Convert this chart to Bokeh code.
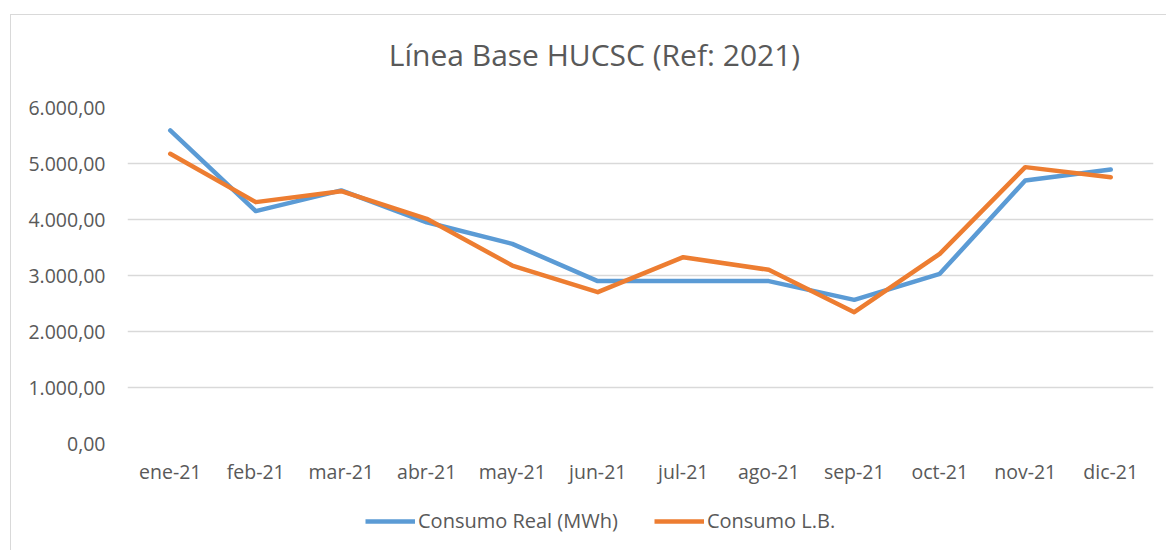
from bokeh.plotting import figure
from bokeh.layouts import column
from bokeh.models import (FactorRange, Range1d, FixedTicker, CustomJSTickFormatter,
                          Legend, LegendItem, Label)
from bokeh.embed import file_html
from bokeh.resources import INLINE

months = ["ene-21", "feb-21", "mar-21", "abr-21", "may-21", "jun-21",
          "jul-21", "ago-21", "sep-21", "oct-21", "nov-21", "dic-21"]
consumo_real = [5590, 4150, 4520, 3950, 3565, 2900, 2900, 2900, 2565, 3030, 4696, 4893]
consumo_lb = [5173, 4310, 4506, 4012, 3178, 2702, 3327, 3101, 2345, 3387, 4935, 4756]
y_ticks = [0, 1000, 2000, 3000, 4000, 5000, 6000]
series_names = ["Consumo Real (MWh)", "Consumo L.B."]
chart_title = "Línea Base HUCSC (Ref: 2021)"

FONT = "Open Sans"
TXT = "#595959"
BLUE = "#5B9BD5"
ORANGE = "#ED7D31"
W = 1155


def strip(h):
    f = figure(width=W, height=h, output_backend="svg", toolbar_location=None,
               x_axis_type=None, y_axis_type=None,
               x_range=Range1d(0, 1026), y_range=Range1d(0, h),
               min_border=0, min_border_left=0, min_border_right=0,
               min_border_top=0, min_border_bottom=0)
    f.outline_line_color = None
    f.xgrid.visible = False
    f.ygrid.visible = False
    f.background_fill_color = "white"
    f.border_fill_color = "white"
    return f


# title strip
t = strip(72)
t.add_layout(Label(x=467, y=33, text=chart_title, text_align="center",
                   text_baseline="middle", text_font=FONT, text_font_size="30px",
                   text_color=TXT))

# main chart
p = figure(x_range=FactorRange(*months), y_range=Range1d(0, 6000),
           width=W, height=408, output_backend="svg", toolbar_location=None,
           min_border_left=116, min_border_right=13, min_border_top=20,
           min_border_bottom=52)
p.outline_line_color = None
p.background_fill_color = "white"
p.border_fill_color = "white"

r1 = p.line(months, consumo_real, line_color=BLUE, line_width=4.5,
            line_join="round", line_cap="round")
r2 = p.line(months, consumo_lb, line_color=ORANGE, line_width=4.5,
            line_join="round", line_cap="round")

p.xgrid.grid_line_color = None
p.ygrid.grid_line_color = "#d9d9d9"
p.ygrid.grid_line_width = 1.3
p.yaxis.ticker = FixedTicker(ticks=y_ticks)
p.yaxis.formatter = CustomJSTickFormatter(code="""
const s = tick.toFixed(2);
let parts = s.split('.');
const i = parts[0].replace(/\\B(?=(\\d{3})+(?!\\d))/g, '.');
return i + ',' + parts[1];
""")

for ax in (p.xaxis[0], p.yaxis[0]):
    ax.axis_line_color = None
    ax.major_tick_line_color = None
    ax.minor_tick_line_color = None
    ax.major_tick_out = 0
    ax.major_tick_in = 0
    ax.major_label_text_font = FONT
    ax.major_label_text_font_size = "19.5px"
    ax.major_label_text_color = TXT
p.yaxis.major_label_standoff = 22
p.xaxis.major_label_standoff = 14

# legend strip below the chart
q = strip(55)
l1 = q.line(x=[0], y=[0], line_color=BLUE, line_width=4.5)
l2 = q.line(x=[0], y=[0], line_color=ORANGE, line_width=4.5)
legend = Legend(items=[LegendItem(label=series_names[0], renderers=[l1]),
                       LegendItem(label=series_names[1], renderers=[l2])],
                orientation="horizontal", location=(238, 16),
                glyph_width=50, glyph_height=20, label_standoff=3, spacing=36,
                padding=0, margin=0, border_line_color=None,
                background_fill_alpha=0, label_text_font=FONT,
                label_text_font_size="20px", label_text_color=TXT)
q.add_layout(legend)

layout = column(t, p, q, spacing=0)
layout.margin = (14, 0, 0, 10)
layout.styles = {"border-left": "1px solid #d9d9d9", "border-top": "1px solid #d9d9d9"}

open("out.html", "w").write(file_html(layout, INLINE))
